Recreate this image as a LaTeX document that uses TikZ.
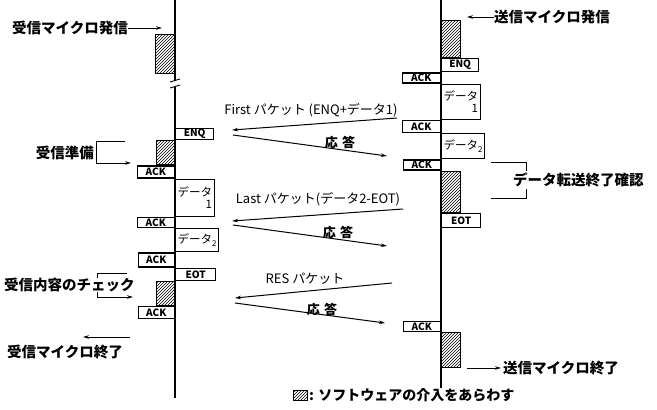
\documentclass[tikz,border=0pt]{standalone}
\usepackage{fontspec}
\setmainfont{Noto Sans CJK JP}
\usetikzlibrary{arrows.meta,positioning,patterns}

\begin{document}
\begin{tikzpicture}[x=1pt, y=-1pt, font=\fontsize{13}{13}\selectfont,
  tag/.style={draw, line width=1.4pt, inner sep=0pt, font=\fontsize{10}{10}\selectfont\bfseries, minimum width=37pt, minimum height=11pt},
  dbox/.style={draw, line width=1pt, inner sep=2pt, align=right, font=\fontsize{11.5}{12}\selectfont, minimum width=38pt, anchor=north west},
  sw/.style={draw, line width=1pt, pattern=north east lines, inner sep=0pt, minimum width=19pt},
  lbl/.style={font=\fontsize{14.5}{15}\selectfont\bfseries, inner sep=0pt},
  ans/.style={font=\fontsize{13}{13}\selectfont\bfseries, inner sep=0pt},
  arr/.style={-{Stealth[length=6pt, width=3.5pt]}, line width=1pt},
  life/.style={line width=1.3pt}]
\useasboundingbox (0,0) rectangle (657,410);

% lifelines
\draw[life] (175,0) -- (175,81);
\draw[life] (175,87) -- (175,398);
\draw[line width=0.9pt] (170,82) -- (180,79) (170,88) -- (180,85);
\draw[life] (441,0) -- (441,388);

% receiver side
\node[sw, minimum height=39pt, anchor=north east] (lh1) at (175,34) {};
\node[tag, minimum width=38pt, anchor=north west] (lenq) at (175,128) {ENQ};
\node[sw, minimum width=18pt, minimum height=24pt, anchor=north east] (lh2) at (lenq.south west) {};
\node[tag, anchor=north east, minimum height=12pt] (lack1) at (lh2.south east) {ACK};
\node[dbox, minimum height=37pt] (ld1) at (lack1.south east) {データ\\1};
\node[tag, anchor=north east, minimum height=10pt] (lack2) at (ld1.south west) {ACK};
\node[dbox, minimum height=23pt] (ld2) at (lack2.south east) {データ{\fontsize{8}{8}\selectfont\raisebox{-3pt}{2}}};
\node[tag, anchor=north east, minimum width=36pt, minimum height=14pt] (lack3) at (ld2.south west) {ACK};
\node[tag, anchor=north west, minimum width=40pt, minimum height=12pt] (leot) at (lack3.south east) {EOT};
\node[sw, minimum width=18pt, minimum height=24pt, anchor=north east] (lh3) at (leot.south west) {};
\node[tag, anchor=north east, minimum width=36pt, minimum height=12pt] (lack4) at (lh3.south east) {ACK};

% sender side
\node[sw, minimum height=37pt, anchor=north west] (rh1) at (441,20) {};
\node[tag, anchor=north west, minimum height=13pt] (renq) at (rh1.south west) {ENQ};
\node[tag, anchor=north east, minimum width=38pt, minimum height=10pt] (rack1) at (renq.south west) {ACK};
\node[dbox, minimum width=37pt, minimum height=35pt] (rd1) at (rack1.south east) {データ\\1};
\node[tag, anchor=north east, minimum width=38pt, minimum height=12pt] (rack2) at (rd1.south west) {ACK};
\node[dbox, minimum width=37pt, minimum height=25pt] (rd2) at (rack2.south east) {データ{\fontsize{8}{8}\selectfont\raisebox{-3pt}{2}}};
\node[tag, anchor=north east, minimum height=10pt] (rack3) at (rd2.south west) {ACK};
\node[sw, minimum height=41pt, anchor=north west] (rh2) at (rack3.south east) {};
\node[tag, anchor=north west, minimum width=39pt, minimum height=14pt] (reot) at (rh2.south west) {EOT};
\node[tag, anchor=north east, minimum height=10pt] (rack4) at (441,321) {ACK};
\node[sw, minimum height=35pt, anchor=north west] (rh3) at (rack4.south east) {};

% messages
\coordinate (m1s) at (397,118); \coordinate (m1e) at (232,130);
\coordinate (r1s) at (233,135); \coordinate (r1e) at (387,156);
\coordinate (m2s) at (403,209); \coordinate (m2e) at (232,221);
\coordinate (r2s) at (233,225); \coordinate (r2e) at (387,246);
\coordinate (m3s) at (392,283); \coordinate (m3e) at (235,298);
\coordinate (r3s) at (235,303); \coordinate (r3e) at (385,323);
\draw[arr] (m1s) -- (m1e);
\draw[arr] (r1s) -- (r1e);
\draw[arr] (m2s) -- (m2e);
\draw[arr] (r2s) -- (r2e);
\draw[arr] (m3s) -- (m3e);
\draw[arr] (r3s) -- (r3e);
\node (m1l) at (311,110) {First パケット (ENQ+データ1)};
\node[ans] (r1l) at (340,142) {応\,\,答};
\node (m2l) at (318,199) {Last パケット(データ2-EOT)};
\node[ans] (r2l) at (338,232) {応\,\,答};
\node (m3l) at (305,279) {RES パケット};
\node[ans] (r3l) at (322,309) {応\,\,答};

% notes, receiver
\node[lbl, anchor=west] (rxstart) at (12,28) {受信マイクロ発信};
\coordinate (rxstartp) at (162,28);
\draw[arr] (rxstart) -- (rxstartp);
\node[lbl, anchor=east] (rxprep) at (94,153) {受信準備};
\coordinate (rxprepp) at (131,163);
\draw[line width=1pt] (125,141) -- (96,141) -- (96,163);
\draw[arr] (96,163) -- (rxprepp);
\node[lbl, anchor=west] (rxchk) at (4,285) {受信内容のチェック};
\coordinate (rxchkp) at (133,297);
\draw[line width=1pt] (127,273) -- (97,273) -- (97,278);
\draw[line width=1pt] (97,292) -- (97,297);
\draw[arr] (97,297) -- (rxchkp);
\node[lbl, anchor=west] (rxend) at (7,352) {受信マイクロ終了};
\coordinate (rxendp) at (83,337);
\draw[arr] (130,337) -- (rxendp);

% notes, sender
\node[lbl, anchor=west] (txstart) at (494,17) {送信マイクロ発信};
\coordinate (txstartp) at (467,17);
\draw[arr] (txstart) -- (txstartp);
\node[lbl, anchor=west] (txchk) at (513,180) {データ転送終了確認};
\draw[line width=1pt] (491,162) -- (526,162) -- (526,171);
\draw[line width=1pt] (526,189) -- (526,198) -- (491,198);
\coordinate (txendp) at (501,368);
\node[lbl, anchor=west] (txend) at (503,368) {送信マイクロ終了};
\draw[arr] (467,368) -- (txendp);

% legend
\node[sw, minimum width=14pt, minimum height=10pt, anchor=north west] (key) at (293,390) {};
\node[lbl, font=\fontsize{14}{14}\selectfont\bfseries, anchor=west] (keytxt) at (309,395) {: ソフトウェアの介入をあらわす};
\end{tikzpicture}
\end{document}
